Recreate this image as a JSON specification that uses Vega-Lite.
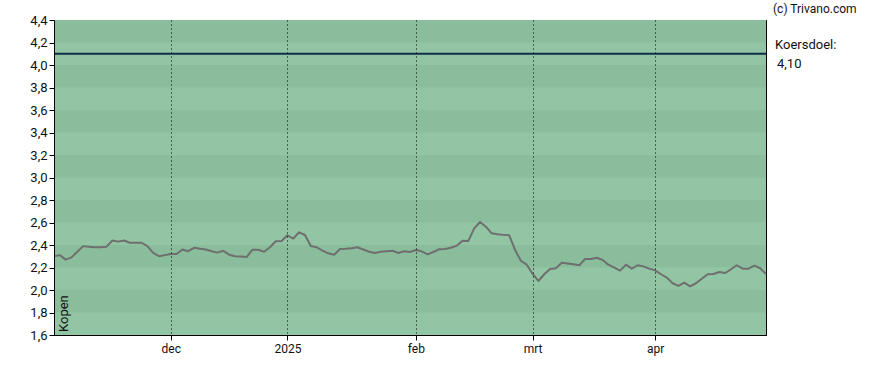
{
  "$schema": "https://vega.github.io/schema/vega-lite/v6.json",
  "width": 712,
  "height": 315,
  "autosize": {"type": "none"},
  "padding": {"left": 54, "top": 20, "right": 122, "bottom": 35},
  "background": "#ffffff",
  "config": {
    "font": "Roboto",
    "view": {"stroke": "#000000", "strokeWidth": 1, "fill": "#92c5a3"},
    "axis": {"labelFont": "Roboto", "labelFontSize": 12, "labelColor": "#111111", "domainColor": "#000000", "tickColor": "#000000", "labelOverlap": false}
  },
  "datasets": {
    "bands": [
      {"lo": 1.8, "hi": 2.0}, {"lo": 2.2, "hi": 2.4}, {"lo": 2.6, "hi": 2.8}, {"lo": 3.0, "hi": 3.2},
      {"lo": 3.4, "hi": 3.6}, {"lo": 3.8, "hi": 4.0}, {"lo": 4.2, "hi": 4.4}
    ],
    "prices": [
      {"d": "2024-11-04", "v": 2.30}, {"d": "2024-11-05", "v": 2.31}, {"d": "2024-11-06", "v": 2.27}, {"d": "2024-11-07", "v": 2.29},
      {"d": "2024-11-08", "v": 2.34}, {"d": "2024-11-11", "v": 2.39}, {"d": "2024-11-12", "v": 2.385}, {"d": "2024-11-13", "v": 2.38},
      {"d": "2024-11-14", "v": 2.38}, {"d": "2024-11-15", "v": 2.385}, {"d": "2024-11-18", "v": 2.44}, {"d": "2024-11-19", "v": 2.43},
      {"d": "2024-11-20", "v": 2.44}, {"d": "2024-11-21", "v": 2.42}, {"d": "2024-11-22", "v": 2.42}, {"d": "2024-11-25", "v": 2.42},
      {"d": "2024-11-26", "v": 2.39}, {"d": "2024-11-27", "v": 2.33}, {"d": "2024-11-28", "v": 2.30}, {"d": "2024-11-29", "v": 2.31},
      {"d": "2024-12-02", "v": 2.32}, {"d": "2024-12-03", "v": 2.32}, {"d": "2024-12-04", "v": 2.36}, {"d": "2024-12-05", "v": 2.345},
      {"d": "2024-12-06", "v": 2.375}, {"d": "2024-12-09", "v": 2.367}, {"d": "2024-12-10", "v": 2.36}, {"d": "2024-12-11", "v": 2.345},
      {"d": "2024-12-12", "v": 2.332}, {"d": "2024-12-13", "v": 2.349}, {"d": "2024-12-16", "v": 2.314}, {"d": "2024-12-17", "v": 2.30},
      {"d": "2024-12-18", "v": 2.297}, {"d": "2024-12-19", "v": 2.293}, {"d": "2024-12-20", "v": 2.358}, {"d": "2024-12-23", "v": 2.358},
      {"d": "2024-12-24", "v": 2.34}, {"d": "2024-12-27", "v": 2.38}, {"d": "2024-12-30", "v": 2.433}, {"d": "2024-12-31", "v": 2.436},
      {"d": "2025-01-02", "v": 2.486}, {"d": "2025-01-03", "v": 2.456}, {"d": "2025-01-06", "v": 2.513}, {"d": "2025-01-07", "v": 2.489},
      {"d": "2025-01-08", "v": 2.391}, {"d": "2025-01-09", "v": 2.38}, {"d": "2025-01-10", "v": 2.35}, {"d": "2025-01-13", "v": 2.326},
      {"d": "2025-01-14", "v": 2.314}, {"d": "2025-01-15", "v": 2.364}, {"d": "2025-01-16", "v": 2.366}, {"d": "2025-01-17", "v": 2.372},
      {"d": "2025-01-20", "v": 2.38}, {"d": "2025-01-21", "v": 2.36}, {"d": "2025-01-22", "v": 2.34}, {"d": "2025-01-23", "v": 2.329},
      {"d": "2025-01-24", "v": 2.34}, {"d": "2025-01-27", "v": 2.345}, {"d": "2025-01-28", "v": 2.349}, {"d": "2025-01-29", "v": 2.329},
      {"d": "2025-01-30", "v": 2.344}, {"d": "2025-01-31", "v": 2.338}, {"d": "2025-02-03", "v": 2.356}, {"d": "2025-02-04", "v": 2.344},
      {"d": "2025-02-05", "v": 2.317}, {"d": "2025-02-06", "v": 2.338}, {"d": "2025-02-07", "v": 2.362}, {"d": "2025-02-10", "v": 2.364},
      {"d": "2025-02-11", "v": 2.376}, {"d": "2025-02-12", "v": 2.394}, {"d": "2025-02-13", "v": 2.438}, {"d": "2025-02-14", "v": 2.436},
      {"d": "2025-02-17", "v": 2.548}, {"d": "2025-02-18", "v": 2.604}, {"d": "2025-02-19", "v": 2.563}, {"d": "2025-02-20", "v": 2.504},
      {"d": "2025-02-21", "v": 2.495}, {"d": "2025-02-24", "v": 2.49}, {"d": "2025-02-25", "v": 2.486}, {"d": "2025-02-26", "v": 2.356},
      {"d": "2025-02-27", "v": 2.26}, {"d": "2025-02-28", "v": 2.225}, {"d": "2025-03-03", "v": 2.145}, {"d": "2025-03-04", "v": 2.08},
      {"d": "2025-03-05", "v": 2.14}, {"d": "2025-03-06", "v": 2.187}, {"d": "2025-03-07", "v": 2.193}, {"d": "2025-03-10", "v": 2.243},
      {"d": "2025-03-11", "v": 2.235}, {"d": "2025-03-12", "v": 2.228}, {"d": "2025-03-13", "v": 2.22}, {"d": "2025-03-14", "v": 2.276},
      {"d": "2025-03-17", "v": 2.276}, {"d": "2025-03-18", "v": 2.287}, {"d": "2025-03-19", "v": 2.267}, {"d": "2025-03-20", "v": 2.225},
      {"d": "2025-03-21", "v": 2.198}, {"d": "2025-03-24", "v": 2.172}, {"d": "2025-03-25", "v": 2.225}, {"d": "2025-03-26", "v": 2.19},
      {"d": "2025-03-27", "v": 2.22}, {"d": "2025-03-28", "v": 2.21}, {"d": "2025-03-31", "v": 2.19}, {"d": "2025-04-01", "v": 2.175},
      {"d": "2025-04-02", "v": 2.14}, {"d": "2025-04-03", "v": 2.11}, {"d": "2025-04-04", "v": 2.06}, {"d": "2025-04-07", "v": 2.036},
      {"d": "2025-04-08", "v": 2.065}, {"d": "2025-04-09", "v": 2.033}, {"d": "2025-04-10", "v": 2.06}, {"d": "2025-04-11", "v": 2.10},
      {"d": "2025-04-14", "v": 2.14}, {"d": "2025-04-15", "v": 2.142}, {"d": "2025-04-16", "v": 2.16}, {"d": "2025-04-17", "v": 2.151},
      {"d": "2025-04-22", "v": 2.184}, {"d": "2025-04-23", "v": 2.22}, {"d": "2025-04-24", "v": 2.19}, {"d": "2025-04-25", "v": 2.19},
      {"d": "2025-04-28", "v": 2.216}, {"d": "2025-04-29", "v": 2.193}, {"d": "2025-04-30", "v": 2.142}
    ],
    "target": [{"v": 4.1, "label": "Koersdoel:", "val": "4,10", "d": "2025-04-30"}],
    "copy": [{"v": 4.4, "d": "2025-04-30", "label": "(c) Trivano.com"}],
    "advice": [{"v": 1.6, "d": "2024-11-04", "label": "Kopen"}]
  },
  "layer": [
    {
      "data": {"name": "bands"},
      "mark": {"type": "rect", "color": "#8abd9b"},
      "encoding": {
        "y": {
          "field": "lo", "type": "quantitative",
          "scale": {"domain": [1.6, 4.4], "nice": false, "zero": false},
          "axis": {
            "values": [1.6, 1.8, 2.0, 2.2, 2.4, 2.6, 2.8, 3.0, 3.2, 3.4, 3.6, 3.8, 4.0, 4.2, 4.4],
            "tickCount": 30,
            "labelExpr": "replace(format(datum.value, '.1f'), '.', ',')",
            "title": null, "grid": false, "tickSize": 5, "labelPadding": 2, "zindex": 1, "labelOverlap": false, "labelFontSize": 13
          }
        },
        "y2": {"field": "hi"}
      }
    },
    {
      "data": {"name": "prices"},
      "mark": {"type": "line", "color": "#6f6f6f", "strokeWidth": 2, "strokeJoin": "round"},
      "encoding": {
        "x": {
          "field": "d", "type": "ordinal",
          "scale": {"type": "point", "padding": 0},
          "axis": {
            "values": ["2024-12-02", "2025-01-02", "2025-02-03", "2025-03-03", "2025-04-01"],
            "labelExpr": "datum.value == '2024-12-02' ? 'dec' : datum.value == '2025-01-02' ? '2025' : datum.value == '2025-02-03' ? 'feb' : datum.value == '2025-03-03' ? 'mrt' : 'apr'",
            "title": null, "labelAngle": 0, "grid": true, "gridColor": "#000000", "gridDash": [1, 3], "gridWidth": 1, "gridOpacity": 1,
            "tickSize": 5, "labelPadding": 3, "zindex": 1, "domain": true
          }
        },
        "y": {
          "field": "v", "type": "quantitative",
          "axis": {
            "values": [1.6, 1.8, 2.0, 2.2, 2.4, 2.6, 2.8, 3.0, 3.2, 3.4, 3.6, 3.8, 4.0, 4.2, 4.4],
            "tickCount": 30,
            "labelExpr": "replace(format(datum.value, '.1f'), '.', ',')",
            "title": null, "grid": false, "tickSize": 5, "labelPadding": 2, "zindex": 1, "labelOverlap": false, "labelFontSize": 13
          }
        }
      }
    },
    {
      "data": {"name": "target"},
      "mark": {"type": "rule", "color": "#0f2f48", "strokeWidth": 2},
      "encoding": {"y": {"field": "v", "type": "quantitative"}}
    },
    {
      "data": {"name": "target"},
      "mark": {"type": "text", "align": "left", "baseline": "middle", "dx": 9, "dy": -9, "fontSize": 13, "color": "#111111"},
      "encoding": {"x": {"field": "d", "type": "ordinal"}, "y": {"field": "v", "type": "quantitative"}, "text": {"field": "label"}}
    },
    {
      "data": {"name": "target"},
      "mark": {"type": "text", "align": "left", "baseline": "middle", "dx": 11, "dy": 10, "fontSize": 13, "color": "#111111"},
      "encoding": {"x": {"field": "d", "type": "ordinal"}, "y": {"field": "v", "type": "quantitative"}, "text": {"field": "val"}}
    },
    {
      "data": {"name": "copy"},
      "mark": {"type": "text", "align": "left", "baseline": "middle", "dx": 7, "dy": -11, "fontSize": 12, "color": "#111111"},
      "encoding": {"x": {"field": "d", "type": "ordinal"}, "y": {"field": "v", "type": "quantitative"}, "text": {"field": "label"}}
    },
    {
      "data": {"name": "advice"},
      "mark": {"type": "text", "align": "left", "baseline": "top", "angle": 270, "dx": 3, "dy": 4, "fontSize": 13, "color": "#111111"},
      "encoding": {"x": {"field": "d", "type": "ordinal"}, "y": {"field": "v", "type": "quantitative"}, "text": {"field": "label"}}
    }
  ]
}
